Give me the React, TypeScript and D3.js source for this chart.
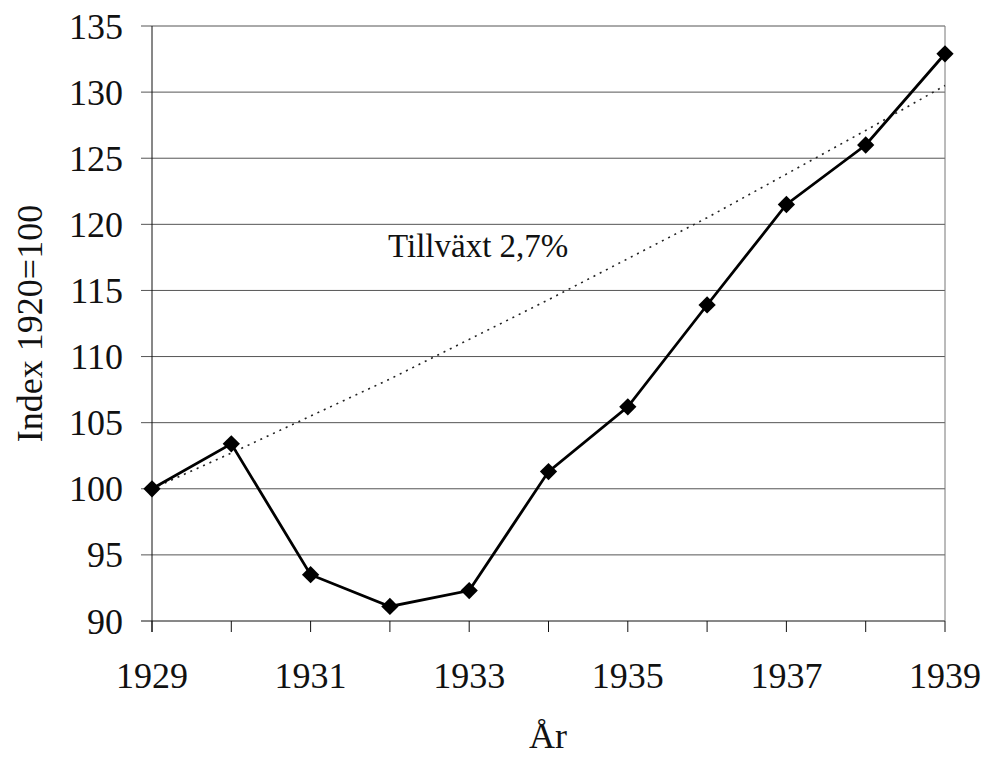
import React from 'react';
import * as d3 from 'd3';

const years = [1929, 1930, 1931, 1932, 1933, 1934, 1935, 1936, 1937, 1938, 1939];
const index = [100, 103.4, 93.5, 91.1, 92.3, 101.3, 106.2, 113.9, 121.5, 126.0, 132.9];
const trend = [100, 102.7, 105.5, 108.3, 111.3, 114.3, 117.4, 120.5, 123.8, 127.1, 130.5];
const yTicks = [90, 95, 100, 105, 110, 115, 120, 125, 130, 135];
const xLabels = [1929, 1931, 1933, 1935, 1937, 1939];

const width = 982;
const height = 758;
const marginLeft = 152;
const marginRight = 37;
const marginTop = 26;
const marginBottom = 137;

const font = "Tinos, 'Liberation Serif', 'Noto Serif', 'DejaVu Serif', FreeSerif, 'Nimbus Roman', 'Nimbus Roman No9 L', 'Times New Roman', Times, serif";

const App: React.FC = () => {
    const x = d3.scaleLinear().domain([1929, 1939]).range([marginLeft, width - marginRight]);
    const y = d3.scaleLinear().domain([90, 135]).range([height - marginBottom, marginTop]);

    const line = d3.line<number>()
        .x((_, i) => x(years[i]))
        .y(d => y(d));

    const diamond = d3.symbol().type(d3.symbolDiamond2).size(190)();

    const y0 = y(90);
    const txt = { fontFamily: font, fill: '#111' };

    return (
        <svg width={width} height={height} style={{ position: 'absolute', left: 0, top: 0 }}>
            <rect width={width} height={height} fill="#fff" />
            {yTicks.map(t => (
                <g key={t}>
                    <line x1={marginLeft - 11} x2={width - marginRight} y1={y(t)} y2={y(t)}
                        stroke={t === 90 ? '#111' : '#555'} strokeWidth={1} />
                    <text x={123} y={y(t)} dy="0.35em" textAnchor="end"
                        style={{ ...txt, fontSize: 36 }}>{t}</text>
                </g>
            ))}
            <line x1={width - marginRight} x2={width - marginRight} y1={marginTop} y2={y0} stroke="#777" strokeWidth={1} />
            <line x1={marginLeft} x2={marginLeft} y1={marginTop} y2={y0 + 11} stroke="#111" strokeWidth={1} />
            {years.map(yr => (
                <line key={yr} x1={x(yr)} x2={x(yr)} y1={y0} y2={y0 + 11} stroke="#111" strokeWidth={1} />
            ))}
            {xLabels.map(yr => (
                <text key={yr} x={x(yr)} y={688} textAnchor="middle"
                    style={{ ...txt, fontSize: 36 }}>{yr}</text>
            ))}
            <path d={line(trend) ?? ''} fill="none" stroke="#222" strokeWidth={1.6} strokeDasharray="2 5" />
            <path d={line(index) ?? ''} fill="none" stroke="#000" strokeWidth={2.8} />
            {index.map((v, i) => (
                <path key={i} d={diamond ?? ''} transform={`translate(${x(years[i])},${y(v)})`} fill="#000" />
            ))}
            <text x={388} y={257} style={{ ...txt, fontSize: 33 }}>Tillväxt 2,7%</text>
            <text transform={`translate(42,${(marginTop + y0) / 2}) rotate(-90)`} textAnchor="middle"
                style={{ ...txt, fontSize: 36 }}>Index 1920=100</text>
            <text x={548} y={748} textAnchor="middle" style={{ ...txt, fontSize: 36 }}>År</text>
        </svg>
    );
};

export default App;
